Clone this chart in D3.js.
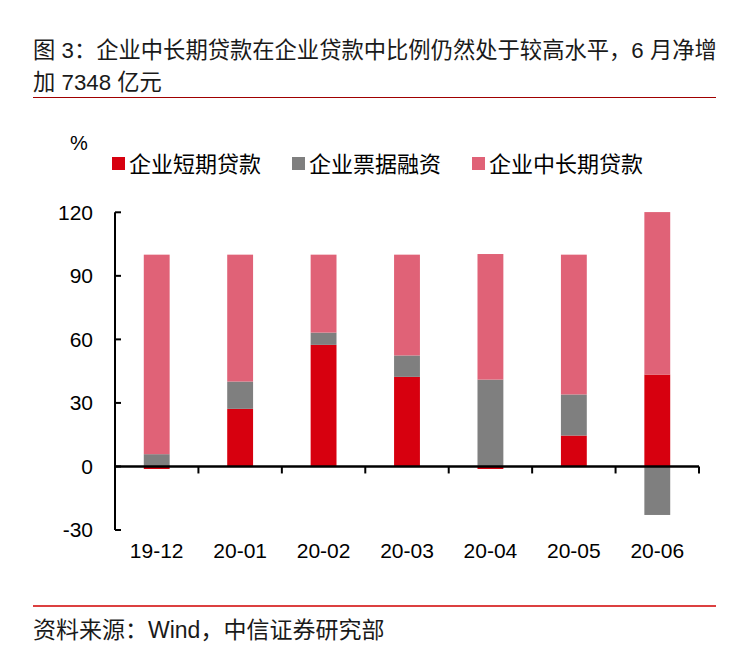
<!DOCTYPE html>
<html><head><meta charset="utf-8">
<script src="https://cdn.jsdelivr.net/npm/d3@7"></script>
<style>
body{margin:0;background:#fff;}
text{font-family:"Liberation Sans","Noto Sans CJK SC",sans-serif;}
</style></head>
<body><svg id="c" width="756" height="667"></svg>
<script>
const categories = ["19-12","20-01","20-02","20-03","20-04","20-05","20-06"];
const seriesNames = ["企业短期贷款","企业票据融资","企业中长期贷款"];
const shortTerm = [-1.2, 27.2, 57.4, 42.3, -1.2, 14.6, 43.4];
const bills     = [5.8, 12.9, 5.8, 10.1, 41.0, 19.4, -22.9];
const longTerm  = [94.2, 59.9, 36.8, 47.6, 59.3, 66.0, 76.7];
const yTicks = [-30, 0, 30, 60, 90, 120];
const colors = ["#D7000F", "#7F7F7F", "#E06277"];
const titleLines = ["图 3：企业中长期贷款在企业贷款中比例仍然处于较高水平，6 月净增", "加 7348 亿元"];
const sourceText = "资料来源：Wind，中信证券研究部";

const svg = d3.select("#c");
const fontStack = '"Liberation Sans","Noto Sans CJK SC",sans-serif';

// Title
svg.selectAll("text.title").data(titleLines).join("text")
  .attr("x", 33).attr("y", (d,i)=>58 + i*32)
  .attr("font-size", 22.3).attr("fill", "#1a1a1a").text(d=>d);
svg.append("line").attr("x1",33).attr("x2",716).attr("y1",97.5).attr("y2",97.5)
  .attr("stroke","#A00000").attr("stroke-width",1);
svg.append("line").attr("x1",33).attr("x2",716).attr("y1",606).attr("y2",606)
  .attr("stroke","#D00000").attr("stroke-width",1.5);
svg.append("text").attr("x",33).attr("y",638).attr("font-size",23).attr("fill","#1a1a1a").text(sourceText);

// Scales
const x = d3.scaleBand().domain(categories).range([115, 699]);
const y = d3.scaleLinear().domain([-30, 120]).range([530, 212.3]);
const barW = x.bandwidth() * 0.31;

const rows = categories.map((c,i)=>({cat:c, s0:shortTerm[i], s1:bills[i], s2:longTerm[i]}));
const stack = d3.stack().keys(["s0","s1","s2"]).offset(d3.stackOffsetDiverging);
const layers = stack(rows);

svg.append("g").selectAll("g").data(layers).join("g")
  .attr("fill", (d,i)=>colors[i])
  .selectAll("rect").data(d=>d).join("rect")
  .attr("x", d=>x(d.data.cat) + (x.bandwidth()-barW)/2)
  .attr("width", barW)
  .attr("y", d=>y(Math.max(d[0],d[1])))
  .attr("height", d=>Math.abs(y(d[0])-y(d[1])));

// Y axis
const yAxis = d3.axisLeft(y).tickValues(yTicks).tickSize(0).tickPadding(22).tickFormat(d=>String(d));
const gy = svg.append("g").attr("transform","translate(115,0)").call(yAxis);
gy.select(".domain").remove();
gy.selectAll("text").attr("font-size",21).attr("fill","#000").attr("font-family",fontStack);
svg.append("line").attr("x1",115).attr("x2",115).attr("y1",y(-30)).attr("y2",y(120))
  .attr("stroke","#000").attr("stroke-width",2);
svg.selectAll("line.yt").data(yTicks).join("line").attr("class","yt")
  .attr("x1",115).attr("x2",121).attr("y1",d=>y(d)).attr("y2",d=>y(d))
  .attr("stroke","#000").attr("stroke-width",2);

// X axis at zero
svg.append("line").attr("x1",115).attr("x2",699).attr("y1",y(0)).attr("y2",y(0))
  .attr("stroke","#000").attr("stroke-width",2.5);
svg.selectAll("line.xt").data(categories.slice(1).concat(["__end"])).join("line").attr("class","xt")
  .attr("x1",(d,i)=> i < categories.length-1 ? x(d) : x.range()[1])
  .attr("x2",(d,i)=> i < categories.length-1 ? x(d) : x.range()[1])
  .attr("y1",y(0)).attr("y2",y(0)+7)
  .attr("stroke","#000").attr("stroke-width",2);
svg.selectAll("text.xl").data(categories).join("text").attr("class","xl")
  .attr("x", d=>x(d)+x.bandwidth()/2).attr("y", 558)
  .attr("text-anchor","middle").attr("font-size",21).attr("fill","#000").text(d=>d);

// Unit
svg.append("text").attr("x",70).attr("y",150).attr("font-size",20).attr("fill","#000").text("%");

// Legend
const legX = [112, 292, 472];
const leg = svg.append("g").selectAll("g").data(seriesNames).join("g")
  .attr("transform",(d,i)=>`translate(${legX[i]},0)`);
leg.append("rect").attr("x",0).attr("y",157).attr("width",13).attr("height",13).attr("fill",(d,i)=>colors[i]);
leg.append("text").attr("x",17).attr("y",172).attr("font-size",22).attr("fill","#000").text(d=>d);
</script></body></html>
